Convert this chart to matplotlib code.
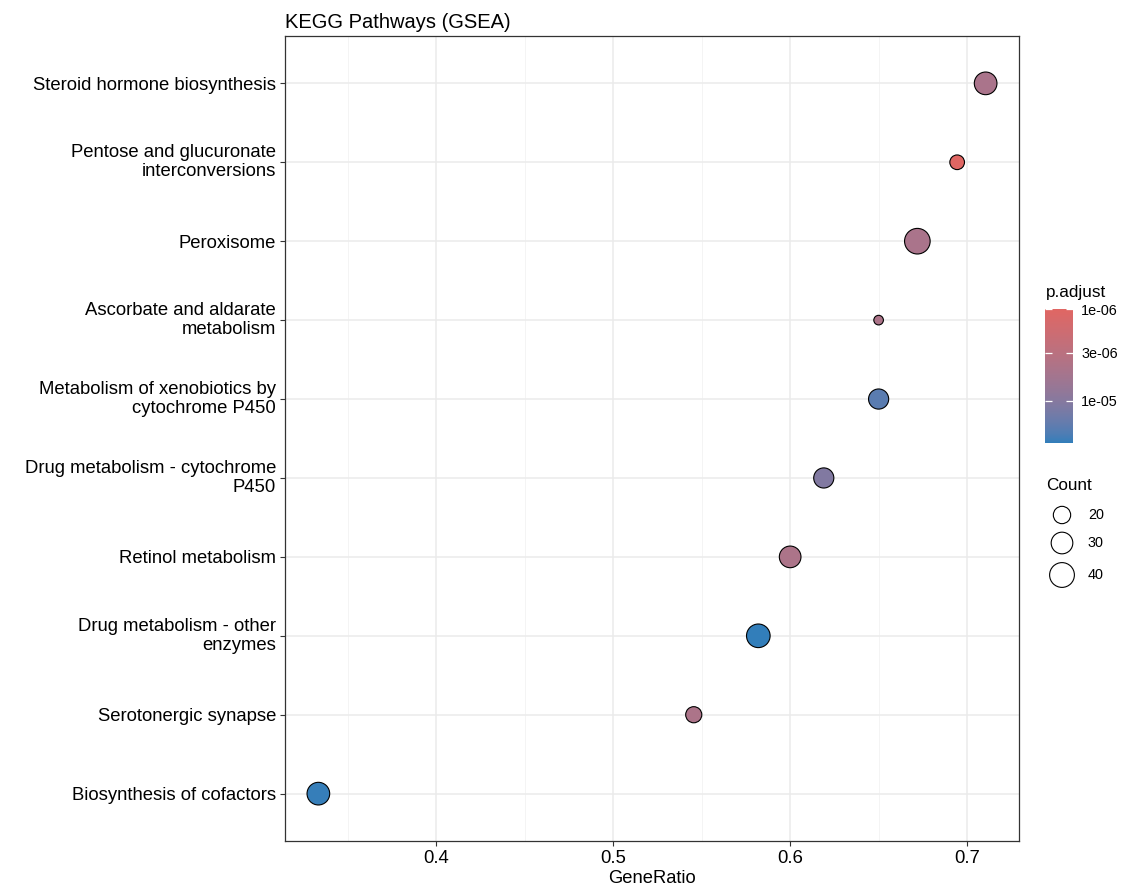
import numpy as np
import matplotlib
matplotlib.use("Agg")
import matplotlib.pyplot as plt
from matplotlib.colors import LogNorm, ListedColormap
from matplotlib.cm import ScalarMappable

plt.rcParams['font.family'] = ['Liberation Sans', 'DejaVu Sans']

# data, top row first
pathways = [
    "Steroid hormone biosynthesis",
    "Pentose and glucuronate\ninterconversions",
    "Peroxisome",
    "Ascorbate and aldarate\nmetabolism",
    "Metabolism of xenobiotics by\ncytochrome P450",
    "Drug metabolism - cytochrome\nP450",
    "Retinol metabolism",
    "Drug metabolism - other\nenzymes",
    "Serotonergic synapse",
    "Biosynthesis of cofactors",
]
gene_ratio = [0.7105, 0.6944, 0.6719, 0.65, 0.65, 0.619, 0.60, 0.582, 0.5455, 0.3333]
counts = [33, 16, 43, 13, 26, 26, 30, 36, 18, 33]
p_adjust = [4.6e-6, 1.0e-6, 4.6e-6, 4.4e-6, 2.0e-5, 1.1e-5, 4.4e-6, 2.9e-5, 4.4e-6, 2.8e-5]

count_breaks = [20, 30, 40]
p_breaks = [1e-6, 3e-6, 1e-5]
p_labels = ["1e-06", "3e-06", "1e-05"]

low_col = "#e06663"
high_col = "#327eba"


# ---- ggplot-like Lab gradient ----
def _lin(c):
    return np.where(c <= 0.04045, c / 12.92, ((c + 0.055) / 1.055) ** 2.4)


def _gam(c):
    return np.where(c <= 0.0031308, 12.92 * c, 1.055 * np.clip(c, 0, None) ** (1 / 2.4) - 0.055)


M = np.array([[0.4124, 0.3576, 0.1805],
              [0.2126, 0.7152, 0.0722],
              [0.0193, 0.1192, 0.9505]])
WHITE = np.array([0.95047, 1.0, 1.08883])


def to_lab(hexc):
    rgb = np.array(matplotlib.colors.to_rgb(hexc))
    xyz = M @ _lin(rgb) / WHITE
    f = np.where(xyz > 0.008856, np.cbrt(xyz), 7.787 * xyz + 16 / 116)
    return np.array([116 * f[1] - 16, 500 * (f[0] - f[1]), 200 * (f[1] - f[2])])


def from_lab(lab):
    fy = (lab[0] + 16) / 116
    fx = fy + lab[1] / 500
    fz = fy - lab[2] / 200
    f = np.array([fx, fy, fz])
    xyz = np.where(f ** 3 > 0.008856, f ** 3, (f - 16 / 116) / 7.787) * WHITE
    rgb = np.linalg.solve(M, xyz)
    return np.clip(_gam(rgb), 0, 1)


la, lb = to_lab(low_col), to_lab(high_col)
cols = [from_lab(la + (lb - la) * t) for t in np.linspace(0, 1, 256)]
cmap = ListedColormap(cols)
norm = LogNorm(vmin=min(p_adjust), vmax=max(p_adjust))


# ---- size scale (area) ----
cmin, cmax = min(counts), max(counts)


def size_pt2(c):
    r = (np.asarray(c, float) - cmin) / (cmax - cmin)
    d_px = 3.2 * (3 + 5 * np.sqrt(np.clip(r, 0, None)))
    return (d_px * 72 / 100) ** 2


W, H = 1143, 891
fig = plt.figure(figsize=(W / 100, H / 100), dpi=100)
ax = fig.add_axes([285 / W, 1 - 841 / H, (1019 - 285) / W, (841 - 36) / H])

n = len(pathways)
ypos = np.arange(n)[::-1]

ax.scatter(gene_ratio, ypos, s=size_pt2(counts), c=p_adjust, cmap=cmap, norm=norm,
           edgecolors="black", linewidths=0.8, zorder=3)

span = max(gene_ratio) - min(gene_ratio)
ax.set_xlim(min(gene_ratio) - 0.05 * span, max(gene_ratio) + 0.05 * span)
ax.set_ylim(-0.6, n - 1 + 0.6)

ax.set_xticks([0.4, 0.5, 0.6, 0.7])
ax.set_xticklabels(["0.4", "0.5", "0.6", "0.7"])
ax.set_xticks([0.35, 0.45, 0.55, 0.65], minor=True)
ax.set_yticks(ypos)
ax.set_yticklabels(pathways, ha="right", va="center", linespacing=1.18)

ax.grid(True, which="major", color="#EBEBEB", lw=1.1, zorder=0)
ax.grid(True, which="minor", axis="x", color="#F2F2F2", lw=0.6, zorder=0)
ax.set_axisbelow(True)
for sp in ax.spines.values():
    sp.set_color("#333333")
    sp.set_linewidth(0.9)
ax.tick_params(axis="both", which="major", labelsize=13.3, color="#333333",
               length=3.5, width=0.8, labelcolor="black")
ax.tick_params(axis="x", which="minor", length=0)
ax.tick_params(axis="x", pad=3)
ax.tick_params(axis="y", pad=3)
# nudge one-line labels down a touch so they sit on the tick like ggplot
for lbl in ax.get_yticklabels():
    if "\n" not in lbl.get_text():
        lbl.set_va("center_baseline")

ax.set_xlabel("GeneRatio", fontsize=13.2, labelpad=2)
ax.set_title("KEGG Pathways (GSEA)", loc="left", fontsize=14.5, pad=6)

# ---- colorbar ----
cax = fig.add_axes([1045 / W, 1 - 443 / H, 28 / W, (443 - 309) / H])
cb = fig.colorbar(ScalarMappable(norm=norm, cmap=cmap), cax=cax)
cb.outline.set_visible(False)
cb.minorticks_off()
cb.set_ticks(p_breaks)
cb.set_ticklabels(p_labels)
cax.invert_yaxis()
cax.tick_params(which="both", left=True, right=True, labelleft=False, labelright=True,
                direction="in", color="white", length=5, width=0.9, labelsize=10.4, pad=6)
cax.minorticks_off()
fig.text(1046 / W, 1 - 293 / H, "p.adjust", fontsize=12.3, va="center", ha="left")

# ---- size legend ----
lax = fig.add_axes([1030 / W, 1 - 600 / H, 110 / W, 130 / H])
lax.set_xlim(1030, 1140)
lax.set_ylim(600, 470)
lax.axis("off")
leg_y = [515, 543, 575]
lax.scatter([1062] * 3, leg_y, s=size_pt2(count_breaks), facecolors="white",
            edgecolors="black", linewidths=0.8, clip_on=False)
for yy, lab in zip(leg_y, count_breaks):
    lax.text(1088, yy, str(lab), fontsize=10.4, va="center", ha="left")
fig.text(1046 / W, 1 - 486 / H, "Count", fontsize=12.3, va="center", ha="left")

fig.savefig("out.png", dpi=100)
